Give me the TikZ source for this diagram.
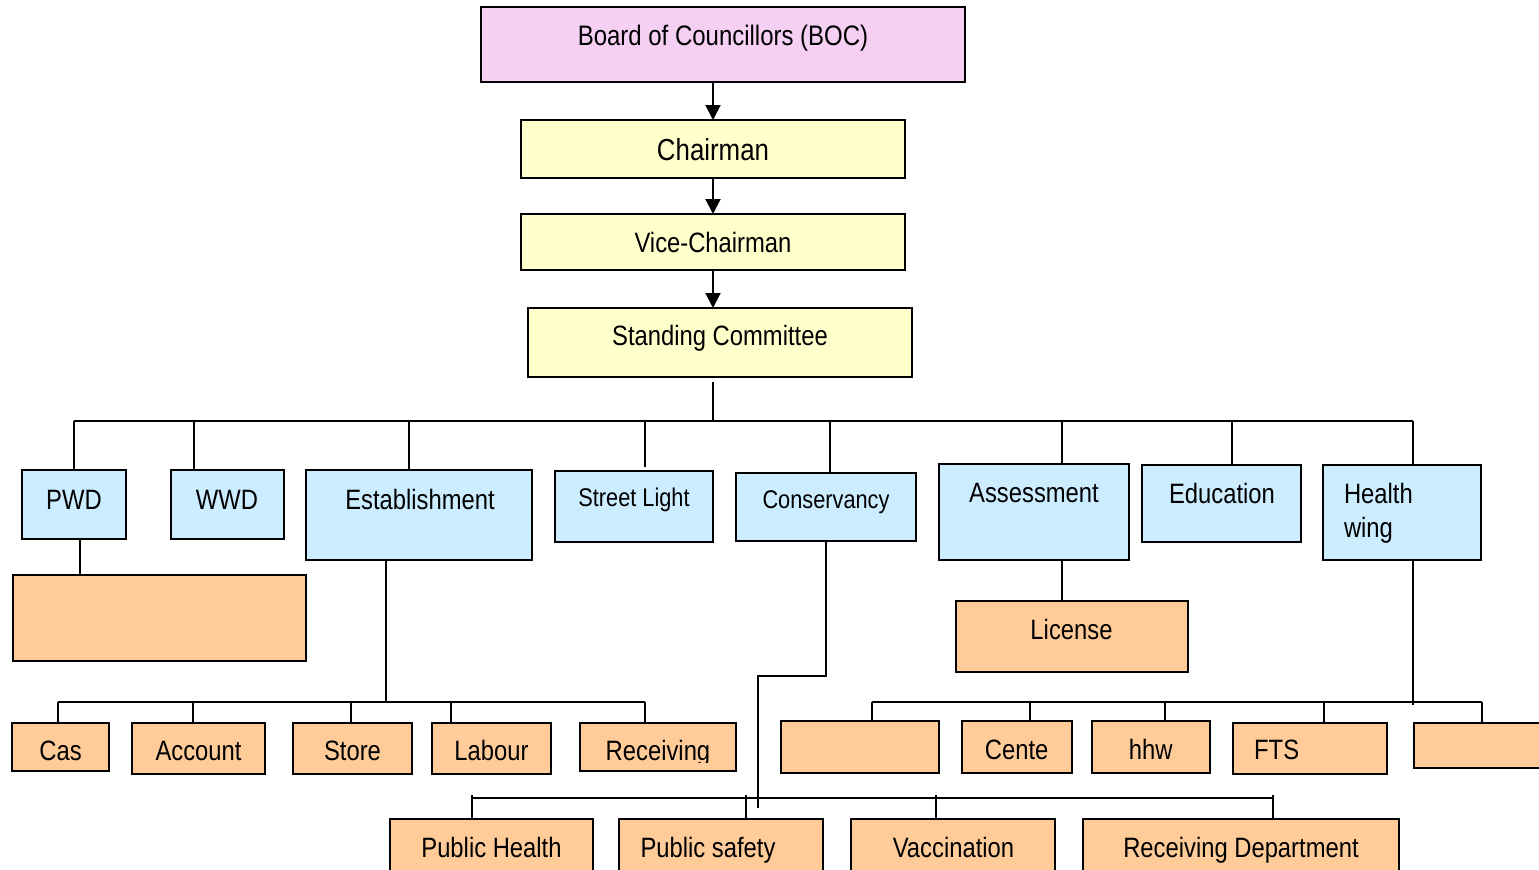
\documentclass[tikz,border=0pt]{standalone}
\usepackage{fontspec}
\setmainfont{Liberation Sans}[FakeStretch=0.85]
\usetikzlibrary{arrows.meta}

\definecolor{bocpink}{HTML}{F6D0F3}
\definecolor{headyellow}{HTML}{FFFFCC}
\definecolor{deptblue}{HTML}{CCECFF}
\definecolor{unitorange}{HTML}{FFCC99}

\tikzset{
  boxbase/.style={draw=black, line width=1pt, inner sep=0pt, outer sep=0pt},
  pinkbox/.style={boxbase, fill=bocpink},
  yellowbox/.style={boxbase, fill=headyellow},
  bluebox/.style={boxbase, fill=deptblue},
  orangebox/.style={boxbase, fill=unitorange},
  lbl/.style={anchor=base, inner sep=0pt, font=\fontsize{14}{16}\selectfont},
  lblw/.style={lbl, anchor=base west},
  lblsmall/.style={lbl, font=\fontsize{12.8}{15}\selectfont},
  link/.style={line width=1pt},
  arrowlink/.style={link, -{Triangle[length=7.5pt,width=7.5pt]}},
}

% box: style, name, left, top, right, bottom (pixel grid)
\newcommand\orgbox[6]{\node[#1, minimum width={(#5-#3)*0.5pt}, minimum height={(#6-#4)*0.5pt}] (#2) at ({(#3+#5)/2},{(#4+#6)/2}) {};}

\begin{document}
\begin{tikzpicture}[x=0.5pt, y=-0.5pt]
\useasboundingbox (0,0) rectangle (1539,869);
\clip (0,0) rectangle (1539,869);

% ---- top of the hierarchy
\orgbox{pinkbox}{boc}{481}{7}{965}{82}
\orgbox{yellowbox}{ch}{521}{120}{905}{178}
\orgbox{yellowbox}{vc}{521}{214}{905}{270}
\orgbox{yellowbox}{sc}{528}{308}{912}{377}

\node[lbl, font=\fontsize{14.1}{16}\selectfont] (boct) at (723,45) {Board of Councillors (BOC)};
\node[lbl, font=\fontsize{15.2}{17}\selectfont] (cht) at (713,160) {Chairman};
\node[lbl] (vct) at (713,252) {Vice-Chairman};
\node[lbl] (sct) at (720,345) {Standing Committee};

\draw[arrowlink] (ch.north |- boc.south) -- (ch.north);
\draw[arrowlink] (ch.south) -- (vc.north);
\draw[arrowlink] (vc.south) -- (vc.south |- sc.north);

% ---- departments
\orgbox{bluebox}{pwd}{22}{470}{126}{539}
\orgbox{bluebox}{wwd}{171}{470}{284}{539}
\orgbox{bluebox}{est}{306}{470}{532}{560}
\orgbox{bluebox}{sl}{555}{471}{713}{542}
\orgbox{bluebox}{cons}{736}{473}{916}{541}
\orgbox{bluebox}{asmt}{939}{464}{1129}{560}
\orgbox{bluebox}{edu}{1142}{465}{1301}{542}
\orgbox{bluebox}{hw}{1323}{465}{1481}{560}

\node[lbl] (pwdt) at (74,509) {PWD};
\node[lbl] (wwdt) at (227,509) {WWD};
\node[lbl] (estt) at (420,509) {Establishment};
\node[lblsmall] (slt) at (634,506) {Street Light};
\node[lblsmall] (const) at (826,508) {Conservancy};
\node[lbl] (asmtt) at (1034,502) {Assessment};
\node[lbl] (edut) at (1222,503) {Education};
\node[lblw] (hwt) at (1343.6,503) {Health};
\node[lblw] (hwt2) at (1343.6,537) {wing};

\coordinate (scdrop) at (713,382);
\coordinate (busL) at (74,421);
\coordinate (busR) at (1413,421);
\draw[link] (scdrop) -- (scdrop |- busL);
\draw[link] (busL) -- (busR);
\foreach \x/\n in {74/pwd, 193.6/wwd, 408.5/est, 830/cons, 1062/asmt, 1232/edu, 1413/hw}
  \draw[link] (\x,421) -- (\x,421 |- \n.north);
\draw[link] (645,421) -- (645,466.7);

% ---- PWD unit
\orgbox{orangebox}{pwdsub}{13}{575}{306}{661}
\draw[link] (80,0 |- pwd.south) -- (80,0 |- pwdsub.north);

% ---- Establishment sections
\orgbox{orangebox}{cas}{12}{723}{108.5}{771}
\orgbox{orangebox}{acc}{132}{723}{265}{774}
\orgbox{orangebox}{store}{293}{723}{412}{774}
\orgbox{orangebox}{lab}{432}{723}{551}{774}
\orgbox{orangebox}{rcv}{580}{723}{736}{771}

\node[lbl] (cast) at (60.5,760) {Cas};
\node[lbl] (acct) at (198.5,760) {Account};
\node[lbl] (storet) at (352.5,760) {Store};
\node[lbl] (labt) at (491.5,760) {Labour};
\begin{scope}
  \clip (580,723) rectangle (736,762);
  \node[lbl] (rcvt) at (658,760) {Receiving};
\end{scope}

\draw[link] (386,0 |- est.south) -- (386,702);
\draw[link] (58,702) -- (645,702);
\foreach \x/\n in {58/cas, 193/acc, 351/store, 451/lab, 645/rcv}
  \draw[link] (\x,702) -- (\x,702 |- \n.north);

% ---- Assessment
\orgbox{orangebox}{lic}{956}{601}{1188}{672}
\node[lbl] (lict) at (1071.5,639) {License};
\draw[link] (1062,0 |- asmt.south) -- (1062,0 |- lic.north);

% ---- Health wing sections
\orgbox{orangebox}{hA}{781}{721}{939}{773}
\orgbox{orangebox}{cente}{962}{721}{1072}{773}
\orgbox{orangebox}{hhw}{1092}{721}{1210}{773}
\orgbox{orangebox}{fts}{1233}{723}{1387}{774}
\orgbox{orangebox}{hE}{1414}{723}{1570}{768}

\node[lbl] (centet) at (1016.7,759) {Cente};
\node[lbl] (hhwt) at (1150.8,759) {hhw};
\node[lblw] (ftst) at (1253.8,759) {FTS};

\draw[link] (1413,0 |- hw.south) -- (1413,705);
\draw[link] (871.5,702) -- (1481.6,702);
\foreach \x/\n in {871.5/hA, 1029.5/cente, 1164.6/hhw, 1323.6/fts, 1481.6/hE}
  \draw[link] (\x,702) -- (\x,702 |- \n.north);

% ---- Conservancy sections
\orgbox{orangebox}{ph}{390}{819}{593}{890}
\orgbox{orangebox}{ps}{619}{819}{823}{890}
\orgbox{orangebox}{vac}{851}{819}{1055}{890}
\orgbox{orangebox}{rd}{1083}{819}{1399}{890}

\node[lbl] (pht) at (491.5,857) {Public Health};
\node[lbl] (pst) at (708,857) {Public safety};
\node[lbl] (vact) at (953.5,857) {Vaccination};
\node[lbl] (rdt) at (1241,857) {Receiving Department};

\draw[link] (cons.south) -- (826,676) -- (758,676) -- (758,808);
\draw[link] (472,798) -- (1273,798);
\foreach \x/\n in {472/ph, 746/ps, 936/vac, 1273/rd}
  \draw[link] (\x,795) -- (\x,795 |- \n.north);
\end{tikzpicture}
\end{document}
